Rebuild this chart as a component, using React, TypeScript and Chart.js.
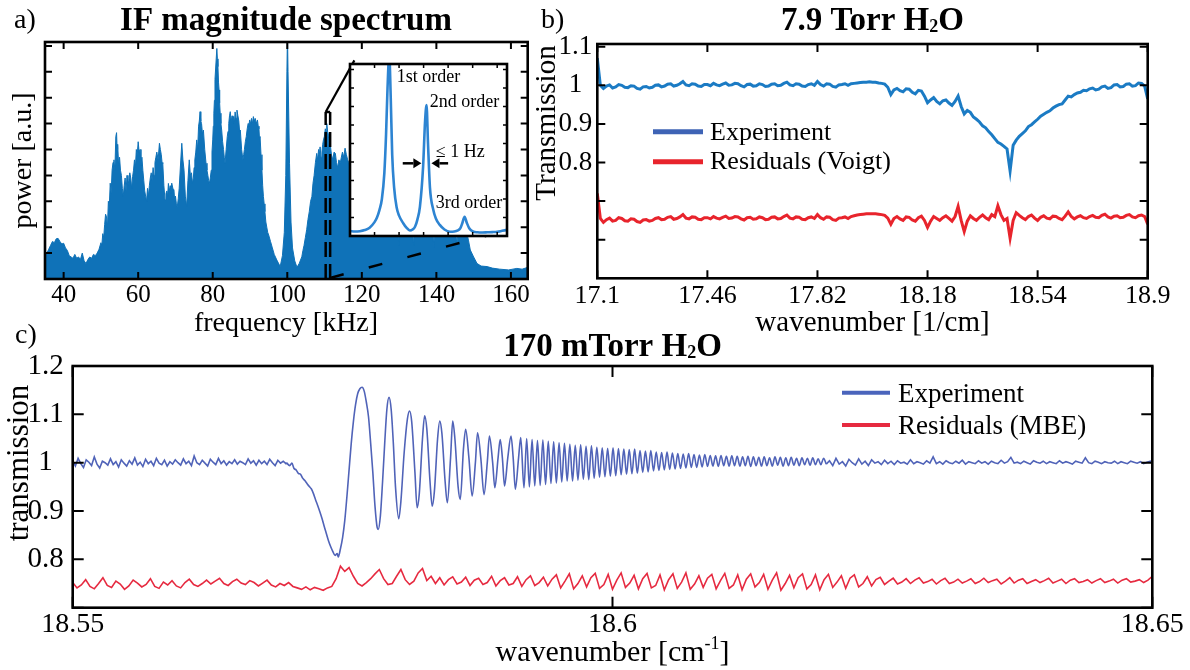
import React, { useEffect, useRef } from 'react';
import { Chart, registerables } from 'chart.js';

Chart.register(...registerables);

const SERIF = '"Liberation Serif", "Times New Roman", Times, serif';

// ---------------- Panel a : IF magnitude spectrum ----------------
const specPoints: [number, number][] = [
  [35.0,1.05],[35.5,1.0],[36.0,1.15],[36.5,1.3],[37.0,1.45],[37.5,1.4],[38.0,1.55],[38.5,1.57],[39.0,1.45],[39.5,1.35],
  [40.0,1.38],[40.5,1.2],[41.0,1.1],[41.5,0.9],[42.0,0.85],[42.5,0.8],[43.0,0.95],[43.5,0.8],[44.0,0.85],[44.5,0.75],
  [45.0,1.0],[45.5,0.7],[46.0,0.6],[46.5,0.75],[47.0,0.85],[47.5,0.8],[48.0,0.95],[48.5,0.9],[49.0,1.0],[49.5,1.15],
  [50.0,1.4],[50.25,1.3],[50.5,1.75],[50.75,1.6],[51.0,2.1],[51.25,2.5],[51.5,2.4],[51.75,2.0],[52.0,3.0],[52.25,2.8],
  [52.5,3.7],[52.75,3.3],[53.0,4.2],[53.25,4.5],[53.5,4.6],[53.75,4.2],[54.0,5.5],[54.2,5.65],[54.35,5.0],[54.5,5.2],
  [54.75,4.4],[55.0,4.7],[55.25,4.2],[55.5,4.0],[55.75,3.5],[56.0,3.2],[56.25,3.6],[56.5,3.9],[56.75,3.4],[57.0,4.0],
  [57.25,3.6],[57.5,3.8],[57.75,4.1],[58.0,3.9],[58.25,3.5],[58.5,3.95],[58.75,4.2],[59.0,4.6],[59.25,4.3],[59.5,5.0],
  [59.75,4.8],[60.0,5.3],[60.25,4.9],[60.5,5.0],[60.75,4.4],[61.0,4.7],[61.25,4.2],[61.5,3.8],[61.75,3.4],[62.0,3.2],
  [62.25,3.0],[62.5,3.5],[62.75,3.2],[63.0,3.6],[63.25,3.9],[63.5,4.1],[63.75,3.8],[64.0,4.3],[64.25,4.0],[64.5,4.5],
  [64.75,4.7],[65.0,4.9],[65.35,4.6],[65.7,5.24],[65.95,5.0],[66.2,4.8],[66.4,4.5],[66.6,4.45],[66.9,3.6],[67.2,3.05],
  [67.45,3.3],[67.7,3.4],[67.9,3.2],[68.1,3.69],[68.35,3.4],[68.6,3.6],[68.8,3.3],[69.0,3.7],[69.3,3.5],[69.6,3.44],
  [69.8,3.0],[70.0,3.2],[70.25,2.9],[70.5,2.8],[70.75,3.1],[71.0,3.5],[71.35,4.4],[71.7,5.24],[72.0,4.6],[72.3,4.2],
  [72.65,3.2],[73.0,2.8],[73.35,3.8],[73.7,4.6],[74.0,4.0],[74.3,4.1],[74.55,3.7],[74.8,3.9],[75.0,4.3],[75.2,4.6],
  [75.45,4.9],[75.7,5.37],[75.95,5.0],[76.2,5.9],[76.4,6.1],[76.6,6.46],[76.8,6.1],[77.0,6.0],[77.25,5.6],[77.5,5.75],
  [77.85,5.0],[78.2,4.47],[78.45,4.2],[78.7,4.0],[78.9,3.8],[79.1,3.69],[79.35,3.9],[79.6,4.2],[79.8,4.9],[80.0,5.37],
  [80.15,5.9],[80.3,6.4],[80.45,6.9],[80.6,7.7],[80.85,8.3],[81.1,8.9],[81.25,8.5],[81.4,8.2],[81.55,7.6],[81.7,7.3],
  [81.85,6.8],[82.0,6.4],[82.2,6.0],[82.4,5.75],[82.65,5.3],[82.9,5.0],[83.1,4.7],[83.3,4.47],[83.6,5.0],[83.9,5.5],
  [84.1,5.7],[84.3,6.0],[84.5,6.3],[84.7,6.46],[84.95,6.1],[85.2,6.3],[85.4,6.0],[85.6,6.27],[85.8,6.0],[86.0,6.45],
  [86.25,6.2],[86.5,6.52],[86.75,6.3],[87.0,6.1],[87.2,5.7],[87.4,5.75],[87.75,5.0],[88.1,4.6],[88.3,4.8],[88.5,5.0],
  [88.75,5.3],[89.0,5.5],[89.25,5.8],[89.5,6.0],[89.7,5.9],[89.9,6.14],[90.15,6.0],[90.4,6.2],[90.65,6.0],[90.9,6.27],
  [91.15,6.1],[91.4,6.2],[91.7,6.0],[92.0,6.14],[92.2,5.9],[92.4,5.8],[92.55,5.4],[92.7,5.5],[92.95,4.8],[93.2,4.2],
  [93.4,3.6],[93.6,3.18],[93.8,2.9],[94.0,2.6],[94.25,2.2],[94.5,2.0],[94.75,1.8],[95.0,1.7],[95.5,1.45],[96.0,1.2],
  [96.5,0.95],[97.2,0.73],[98.1,0.48],[98.7,0.9],[99.2,1.8],[99.6,4.0],[99.9,8.0],[100.05,9.5],[100.2,8.0],[100.6,4.47],
  [101.0,2.2],[101.4,1.2],[102.0,0.7],[102.6,0.45],[103.2,0.6],[103.9,0.86],[104.2,1.1],[104.5,1.3],[104.85,1.6],[105.2,1.9],
  [105.55,2.3],[105.9,2.6],[106.25,3.0],[106.6,3.18],[106.9,3.7],[107.2,4.0],[107.55,4.5],[107.9,4.85],[108.15,4.6],[108.4,5.0],
  [108.6,4.8],[108.8,5.1],[109.05,4.7],[109.3,4.9],[109.5,5.2],[109.7,5.37],[109.95,5.5],[110.2,5.8],[110.4,5.7],[110.6,6.0],
  [110.8,5.7],[111.0,5.6],[111.25,5.0],[111.5,5.24],[111.85,4.8],[112.2,4.6],[112.55,4.9],[112.9,4.85],[113.2,4.5],[113.5,4.3],
  [113.85,4.6],[114.2,4.47],[114.5,4.7],[114.8,4.9],[115.15,4.7],[115.5,5.05],[115.85,4.8],[116.2,4.6],[117.0,4.3],[118.0,4.0],
  [120.0,3.5],[122.0,3.8],[124.0,3.2],[126.0,3.0],[128.0,3.4],[129.5,2.5],[129.9,1.3],[130.3,2.6],[132.0,3.0],[133.5,2.4],
  [133.9,1.3],[134.3,2.5],[136.0,3.2],[138.0,2.8],[139.0,2.2],[139.3,1.2],[139.6,2.4],[141.0,3.0],[143.0,2.6],[145.0,2.2],
  [145.5,1.3],[145.9,2.3],[147.0,2.2],[148.0,1.9],[148.6,1.5],[149.1,1.12],[150.0,0.85],[150.9,0.6],[152.0,0.5],[153.6,0.48],
  [155.0,0.42],[157.0,0.38],[159.4,0.35],[161.6,0.41],[163.0,0.38],[164.5,0.45],
];
const aXTicks = [40, 60, 80, 100, 120, 140, 160];
const aYTicks = [1, 2, 3, 4, 5, 6, 7, 8, 9];
// zoom window (dashed) and connector lines, in kHz / a.u.
const zoomLeftEdge: [number, number][] = [[110.3, 0], [110.3, 6.45]];
const zoomRightEdge: [number, number][] = [[111.5, 0], [111.5, 6.45]];
const zoomTopEdge: [number, number][] = [[110.3, 6.45], [111.5, 6.45]];
const zoomLinkTop: [number, number][] = [[110.3, 6.45], [118.0, 8.44]];
const zoomLinkBottom: [number, number][] = [[111.5, 0.04], [159.3, 1.9]];

// ---------------- Inset : beat notes ----------------
const insetPoints: [number, number][] = [
  [0.0,0.27],[0.2,0.24],[0.4,0.26],[0.6,0.32],[0.8,0.45],[1.0,0.75],[1.1,1.0],[1.2,1.4],[1.3,2.0],[1.4,3.4],
  [1.47,5.5],[1.53,8.0],[1.6,9.8],[1.66,7.5],[1.72,4.4],[1.8,2.6],[1.9,1.55],[2.0,1.1],[2.17,0.69],[2.3,0.45],
  [2.44,0.3],[2.55,0.35],[2.65,0.5],[2.75,0.9],[2.85,1.58],[2.98,3.75],[3.06,6.2],[3.12,7.08],[3.18,5.0],[3.26,2.6],
  [3.39,1.45],[3.5,0.95],[3.66,0.6],[3.85,0.35],[4.07,0.23],[4.25,0.24],[4.4,0.3],[4.5,0.42],[4.58,0.7],[4.67,1.04],
  [4.76,0.72],[4.86,0.42],[5.01,0.25],[5.2,0.2],[5.4,0.19],[5.6,0.2],[5.8,0.21],[6.0,0.23],[6.2,0.28],[6.4,0.33],
];
const insetXTicks = [1, 2, 3, 4, 5, 6];
const insetYTicks = [1, 2, 3, 4, 5, 6, 7, 8, 9];
const insetLabels = [
  { t: '1st order', x: 1.91, y: 8.31 },
  { t: '2nd order', x: 3.25, y: 6.99 },
  { t: '≤ 1 Hz', x: 3.5, y: 4.25 },
  { t: '3rd order', x: 3.5, y: 1.5 },
];
const insetArrows: [number, number, number][] = [[2.15, 2.91, 3.93], [4.0, 3.32, 3.93]];

// ---------------- Panel b : 7.9 Torr ----------------
const B_START = 17.1;
const B_STEP = 0.01;
const bExperiment = [
  1.070,1.000,0.992,0.998,1.001,0.993,0.996,1.002,1.000,0.995, // 17.10
  0.994,0.999,0.998,0.992,0.990,0.996,0.997,0.993,0.995,1.000, // 17.20
  1.001,0.996,0.998,1.003,1.004,0.998,1.000,1.004,1.010,1.001, // 17.30
  0.999,1.004,1.003,0.998,0.997,1.002,1.002,0.999,1.005,1.001, // 17.40
  0.999,1.003,1.006,1.000,1.001,1.005,1.004,0.999,0.996,1.002, // 17.50
  1.003,0.998,0.999,1.004,1.002,0.997,0.998,1.003,1.004,0.999, // 17.60
  1.000,1.005,1.008,1.001,0.999,1.004,1.003,0.998,0.997,1.002, // 17.70
  1.004,1.000,1.010,1.002,0.998,1.004,1.003,0.997,0.995,1.001, // 17.80
  1.002,1.004,1.000,1.004,1.005,1.006,1.007,1.008,1.008,1.009, // 17.90
  1.008,1.008,1.006,1.005,1.003,0.995,0.976,0.988,0.992,0.986, // 18.00
  0.983,0.991,0.990,0.982,0.978,0.987,0.985,0.972,0.955,0.962, // 18.10
  0.968,0.958,0.952,0.960,0.962,0.954,0.948,0.958,0.972,0.945, // 18.20
  0.926,0.935,0.930,0.918,0.912,0.905,0.895,0.890,0.880,0.872, // 18.30
  0.862,0.852,0.848,0.842,0.835,0.778,0.845,0.858,0.868,0.875, // 18.40
  0.882,0.893,0.898,0.905,0.912,0.920,0.925,0.930,0.934,0.941, // 18.50
  0.946,0.950,0.952,0.962,0.972,0.970,0.976,0.980,0.982,0.987, // 18.60
  0.986,0.991,0.993,0.988,0.990,0.996,0.998,0.992,0.994,1.001, // 18.70
  1.002,0.996,0.997,1.003,1.004,0.998,0.999,1.006,1.005,0.998, // 18.80
  0.965,                                                       // 18.90
];
const bResiduals = [
  0.720,0.655,0.645,0.652,0.656,0.648,0.650,0.657,0.655,0.649, // 17.10
  0.648,0.654,0.653,0.647,0.645,0.651,0.652,0.648,0.650,0.655, // 17.20
  0.657,0.652,0.653,0.658,0.660,0.653,0.655,0.659,0.665,0.656, // 17.30
  0.654,0.659,0.658,0.653,0.652,0.657,0.657,0.654,0.660,0.656, // 17.40
  0.654,0.658,0.661,0.655,0.656,0.660,0.659,0.654,0.651,0.657, // 17.50
  0.658,0.653,0.654,0.659,0.657,0.652,0.653,0.658,0.659,0.654, // 17.60
  0.655,0.660,0.664,0.656,0.654,0.659,0.658,0.653,0.652,0.657, // 17.70
  0.659,0.655,0.665,0.657,0.653,0.659,0.658,0.652,0.650,0.656, // 17.80
  0.657,0.659,0.655,0.660,0.662,0.664,0.665,0.666,0.667,0.667, // 17.90
  0.667,0.667,0.666,0.665,0.663,0.656,0.640,0.655,0.660,0.654, // 18.00
  0.650,0.659,0.658,0.651,0.648,0.657,0.661,0.650,0.632,0.648, // 18.10
  0.660,0.655,0.650,0.657,0.662,0.655,0.648,0.660,0.686,0.650, // 18.20
  0.621,0.648,0.662,0.655,0.650,0.658,0.664,0.657,0.652,0.665, // 18.30
  0.660,0.688,0.665,0.650,0.655,0.604,0.650,0.670,0.663,0.657, // 18.40
  0.652,0.660,0.664,0.656,0.650,0.658,0.662,0.656,0.654,0.661, // 18.50
  0.660,0.655,0.652,0.661,0.672,0.660,0.654,0.659,0.662,0.657, // 18.60
  0.655,0.660,0.663,0.658,0.657,0.663,0.666,0.659,0.656,0.661, // 18.70
  0.662,0.657,0.658,0.663,0.665,0.659,0.657,0.662,0.664,0.660, // 18.80
  0.640,                                                       // 18.90
];
const bXTicks = [17.1, 17.46, 17.82, 18.18, 18.54, 18.9];
const bYTicks = [0.6, 0.7, 0.8, 0.9, 1, 1.1];
const bYLabelled = [0.8, 0.9, 1, 1.1];
const bLegendLabels = ['Experiment', 'Residuals (Voigt)'];

// ---------------- Panel c : 170 mTorr ----------------
const C_HEAD_START = 18.55;
const C_HEAD_STEP = 0.00025;
const cExpHead = [
  1.004,0.993,1.009,0.998,0.990,1.006,1.001,0.994,1.012,0.997,
  0.989,1.003,1.000,0.995,1.008,0.996,1.002,0.991,1.006,0.999,
  0.993,1.004,0.997,1.010,0.995,1.001,0.992,1.007,0.998,1.003,
  0.994,1.009,0.999,0.996,1.005,0.993,1.002,0.997,1.006,1.000,
  0.995,1.008,0.998,1.003,0.994,1.014,1.000,0.996,1.005,0.999,
  0.993,1.007,1.001,0.996,1.009,0.998,1.004,0.995,1.002,0.998,
  1.006,0.997,1.003,1.000,0.996,1.008,0.999,1.004,0.995,1.005,
  0.998,1.003,0.996,1.007,1.000,0.994,1.005,0.999,1.003,0.998,
];
const cExpCore: [number, number][] = [
  [18.5698,1.000],[18.5701,0.994],[18.5703,0.999],[18.5705,0.988],[18.5707,0.985],[18.5709,0.978],[18.5711,0.976],
  [18.5713,0.968],[18.5715,0.963],[18.5717,0.957],[18.5719,0.951],[18.5721,0.946],[18.5723,0.936],[18.5725,0.923],
  [18.5727,0.911],[18.5729,0.898],[18.5731,0.884],[18.5733,0.868],[18.5735,0.853],[18.5737,0.838],[18.5739,0.826],
  [18.5741,0.816],[18.5743,0.808],[18.5745,0.812],[18.5746,0.805],[18.5748,0.822],[18.5750,0.845],[18.5752,0.880],
  [18.5754,0.930],[18.5756,0.985],[18.5758,1.040],[18.5760,1.085],[18.5762,1.120],[18.5764,1.143],[18.5766,1.153],
  [18.5768,1.156],[18.5770,1.148],[18.5772,1.125],[18.5774,1.095],[18.5776,1.040],[18.5778,0.980],[18.5780,0.910],
  [18.5782,0.866],[18.5783,0.862],[18.5785,0.890],[18.5787,0.960],[18.5789,1.040],[18.5791,1.110],[18.5793,1.135],
  [18.5795,1.110],[18.5797,1.040],[18.5799,0.950],[18.5802,0.884],[18.5804,0.920],[18.5807,1.020],[18.5810,1.090],
  [18.5812,1.107],[18.5814,1.085],[18.5817,0.980],[18.5819,0.907],[18.5821,0.935],[18.5824,1.050],[18.5826,1.097],
  [18.5828,1.070],[18.5831,0.960],[18.5833,0.910],[18.5835,0.940],[18.5838,1.050],[18.5840,1.086],[18.5842,1.060],
  [18.5845,0.960],[18.5847,0.917],[18.5850,1.010],[18.5852,1.086],[18.5854,1.050],[18.5857,0.950],[18.5859,0.924],
  [18.5862,1.030],[18.5864,1.069],[18.5867,1.010],[18.5870,0.931],[18.5873,1.000],[18.5875,1.062],[18.5878,1.010],
  [18.5881,0.934],[18.5884,1.000],[18.5886,1.055],[18.5889,1.000],[18.5891,0.948],[18.5894,1.010],[18.5896,1.048],
  [18.5898,1.010],[18.5900,0.952],[18.5903,1.010],[18.5906,1.055],[18.5908,1.010],[18.5910,0.945],[18.5913,1.010],
  [18.5915,1.052],
];
const C_OSC_START = 18.5918;
const C_OSC_STEP = 0.00025;
const cExpOsc = [
  0.948,1.050,0.950,1.048,0.952,1.046,0.953,1.047,0.955,1.044,
  0.957,1.043,0.958,1.041,0.960,1.040,0.962,1.038,0.962,1.036,
  0.964,1.037,0.966,1.034,0.965,1.035,0.968,1.032,0.970,1.031,
  0.971,1.030,0.972,1.031,0.973,1.029,0.975,1.028,0.976,1.027,
  0.977,1.028,0.978,1.025,0.980,1.024,0.981,1.025,0.983,1.022,
  0.984,1.021,0.985,1.022,0.986,1.020,0.987,1.019,0.988,1.018,
  0.989,1.019,0.990,1.017,0.990,1.016,0.991,1.017,0.992,1.015,
  0.993,1.014,0.992,1.015,0.994,1.013,0.993,1.014,0.994,1.013,
  0.993,1.012,0.994,1.013,0.992,1.012,0.994,1.011,0.993,1.012,
  0.994,1.010,0.993,1.012,0.995,1.011,0.993,1.010,0.994,1.011,
  0.995,1.009,0.994,1.010,0.996,1.009,0.995,1.010,0.996,1.008,
  0.996,1.009,0.997,
];
const C_TAIL_START = 18.6201;
const C_TAIL_STEP = 0.0003;
const cExpTail = [
  1.004,0.994,1.009,0.997,1.002,0.993,1.007,1.000,0.995,1.008,
  0.997,1.003,0.994,1.006,0.999,1.002,0.996,1.005,0.998,1.003,
  0.996,1.004,0.999,1.001,0.997,1.006,0.998,1.002,1.000,0.997,
  1.004,0.999,1.012,0.998,1.002,0.997,1.004,1.000,0.998,1.003,
  0.999,1.005,0.997,1.002,1.000,0.998,1.004,0.999,1.002,0.997,
  1.003,1.000,0.998,1.005,0.999,1.002,1.011,0.999,1.001,0.998,
  1.003,1.000,0.997,1.004,1.001,0.999,1.003,0.998,1.002,1.000,
  0.998,1.004,0.999,1.002,1.000,0.997,1.003,1.001,0.999,1.010,
  1.000,0.998,1.003,1.001,0.998,1.002,1.000,0.999,1.003,0.998,
  1.002,1.000,0.998,1.003,1.001,0.999,1.002,0.998,1.001,1.003,
  1.004,
];
const C_RES_START = 18.55;
const C_RES_STEP = 0.0004;
const cResiduals = [
  0.752,0.741,0.747,0.758,0.744,0.739,0.750,0.762,0.746,0.742,
  0.755,0.749,0.738,0.745,0.757,0.751,0.743,0.748,0.760,0.744,
  0.740,0.753,0.747,0.756,0.745,0.741,0.752,0.759,0.748,0.744,
  0.750,0.757,0.749,0.755,0.761,0.750,0.746,0.754,0.759,0.751,
  0.748,0.756,0.752,0.745,0.751,0.757,0.747,0.743,0.750,0.746,
  0.752,0.744,0.741,0.738,0.743,0.737,0.742,0.739,0.736,0.741,
  0.744,0.760,0.786,0.775,0.783,0.765,0.750,0.745,0.752,0.760,
  0.770,0.779,0.760,0.748,0.750,0.765,0.779,0.758,0.748,0.755,
  0.772,0.781,0.756,0.765,0.750,0.762,0.747,0.758,0.764,0.749,
  0.753,0.763,0.746,0.757,0.761,0.748,0.752,0.765,0.745,0.756,
  0.762,0.747,0.750,0.764,0.744,0.758,0.766,0.746,0.752,0.763,
  0.745,0.759,0.768,0.741,0.755,0.770,0.739,0.750,0.766,0.743,
  0.762,0.771,0.740,0.748,0.769,0.738,0.757,0.772,0.742,0.751,
  0.767,0.739,0.760,0.771,0.741,0.746,0.768,0.737,0.758,0.770,
  0.740,0.753,0.772,0.738,0.749,0.766,0.742,0.761,0.769,0.739,
  0.756,0.771,0.740,0.747,0.768,0.737,0.759,0.770,0.743,0.752,
  0.769,0.738,0.757,0.772,0.736,0.750,0.767,0.741,0.762,0.770,
  0.739,0.748,0.768,0.737,0.758,0.769,0.742,0.753,0.766,0.740,
  0.761,0.768,0.743,0.750,0.764,0.745,0.758,0.763,0.748,0.755,
  0.761,0.749,0.753,0.760,0.750,0.757,0.762,0.751,0.754,0.759,
  0.749,0.756,0.761,0.750,0.753,0.759,0.751,0.755,0.760,0.750,
  0.754,0.761,0.752,0.756,0.759,0.749,0.755,0.762,0.751,0.757,
  0.760,0.750,0.754,0.758,0.752,0.756,0.761,0.751,0.755,0.759,
  0.750,0.757,0.760,0.752,0.754,0.758,0.751,0.756,0.760,0.752,
  0.755,0.759,0.751,0.757,0.760,0.753,0.755,0.758,0.752,0.757,
  0.765,
];
const cXTicks = [18.55, 18.6, 18.65];
const cYTicks = [0.7, 0.8, 0.9, 1, 1.1, 1.2];
const cYLabelled = [0.8, 0.9, 1, 1.1, 1.2];
const cLegendLabels = ['Experiment', 'Residuals (MBE)'];

// ---------------- colours ----------------
const SPEC_BLUE = '#0f72b8';
const INSET_BLUE = '#2d84d2';
const B_EXP = '#1b7bc4';
const B_RES = '#e8242c';
const B_LEG_BLUE = '#3e63b5';
const C_EXP = '#5063b8';
const C_RES = '#e62a40';
const C_LEG_BLUE = '#4a64bc';

// ---------------- helpers ----------------
type Part = { t: string; s?: number; dy?: number };
type Txt = { parts: Part[]; x: number; y: number; size: number; bold?: boolean; align?: 'left' | 'center'; rot?: boolean };
type Leg = { label: string; color: string; x0: number; x1: number; y: number; lw: number; tx: number; ty: number; size: number };
interface DecorCfg {
  ox: number; oy: number; tickLen: number; tickWidth: number; frameWidth: number;
  texts?: Txt[]; legend?: Leg[]; white?: boolean; extra?: (chart: any) => void;
}
const plain = (t: string): Part[] => [{ t }];

function drawRich(ctx: CanvasRenderingContext2D, t: Txt) {
  const fontFor = (p: Part) => `${t.bold ? 'bold ' : ''}${Math.round(t.size * (p.s ?? 1))}px ${SERIF}`;
  let total = 0;
  const widths = t.parts.map((p) => { ctx.font = fontFor(p); const w = ctx.measureText(p.t).width; total += w; return w; });
  let x = t.align === 'center' ? -total / 2 : 0;
  ctx.textAlign = 'left';
  ctx.textBaseline = 'alphabetic';
  t.parts.forEach((p, i) => { ctx.font = fontFor(p); ctx.fillText(p.t, x, p.dy ?? 0); x += widths[i]; });
}

function makeDecor(cfg: DecorCfg) {
  return {
    id: 'decor',
    beforeDatasetsDraw(chart: any) {
      if (!cfg.white) return;
      const { ctx, chartArea: a } = chart;
      ctx.save();
      ctx.fillStyle = '#ffffff';
      ctx.fillRect(a.left, a.top, a.right - a.left, a.bottom - a.top);
      ctx.restore();
    },
    afterDatasetsDraw(chart: any) {
      const { ctx, chartArea: a } = chart;
      const xs = chart.scales.x;
      const ys = chart.scales.y;
      ctx.save();
      ctx.strokeStyle = '#000';
      ctx.lineWidth = cfg.tickWidth;
      ctx.beginPath();
      xs.ticks.forEach((t: any) => {
        const p = xs.getPixelForValue(t.value);
        ctx.moveTo(p, a.bottom); ctx.lineTo(p, a.bottom - cfg.tickLen);
        ctx.moveTo(p, a.top); ctx.lineTo(p, a.top + cfg.tickLen);
      });
      ys.ticks.forEach((t: any) => {
        const p = ys.getPixelForValue(t.value);
        ctx.moveTo(a.left, p); ctx.lineTo(a.left + cfg.tickLen, p);
        ctx.moveTo(a.right, p); ctx.lineTo(a.right - cfg.tickLen, p);
      });
      ctx.stroke();
      ctx.lineWidth = cfg.frameWidth;
      ctx.strokeRect(a.left, a.top, a.right - a.left, a.bottom - a.top);
      if (cfg.extra) cfg.extra(chart);
      (cfg.legend || []).forEach((l) => {
        ctx.strokeStyle = l.color;
        ctx.lineWidth = l.lw;
        ctx.beginPath();
        ctx.moveTo(l.x0 - cfg.ox, l.y - cfg.oy);
        ctx.lineTo(l.x1 - cfg.ox, l.y - cfg.oy);
        ctx.stroke();
        ctx.fillStyle = '#000';
        ctx.font = `${l.size}px ${SERIF}`;
        ctx.textAlign = 'left';
        ctx.textBaseline = 'alphabetic';
        ctx.fillText(l.label, l.tx - cfg.ox, l.ty - cfg.oy);
      });
      (cfg.texts || []).forEach((t) => {
        ctx.save();
        ctx.fillStyle = '#000';
        ctx.translate(t.x - cfg.ox, t.y - cfg.oy);
        if (t.rot) ctx.rotate(-Math.PI / 2);
        drawRich(ctx, t);
        ctx.restore();
      });
      ctx.restore();
    },
  };
}

function axisCfg(o: {
  min: number; max: number; ticks: number[]; horizontal: boolean; fixed: number;
  size?: number; padding?: number; show?: boolean; labelled?: number[]; crossAlign?: string;
}) {
  return {
    type: 'linear',
    min: o.min,
    max: o.max,
    afterBuildTicks: (s: any) => { s.ticks = o.ticks.map((v) => ({ value: v })); },
    afterFit: (s: any) => {
      if (o.horizontal) s.height = o.fixed; else s.width = o.fixed;
      s.paddingLeft = 0; s.paddingRight = 0; s.paddingTop = 0; s.paddingBottom = 0;
    },
    grid: { display: false, drawTicks: false },
    border: { display: false },
    ticks: {
      display: o.show !== false,
      autoSkip: false,
      maxRotation: 0,
      minRotation: 0,
      color: '#000',
      font: { family: SERIF, size: o.size ?? 25 },
      padding: o.padding ?? 0,
      crossAlign: o.crossAlign ?? 'near',
      callback: (v: any) => (!o.labelled || o.labelled.includes(Number(v)) ? String(Number(v)) : ''),
    },
  };
}

function line(points: { x: number; y: number }[], color: string, width: number, extra: any = {}) {
  return { data: points, borderColor: color, backgroundColor: color, borderWidth: width, pointRadius: 0, pointHoverRadius: 0, fill: false, ...extra };
}
const pairs = (arr: [number, number][]) => arr.map(([x, y]) => ({ x, y }));
const grid = (start: number, step: number, ys: number[]) => ys.map((y, i) => ({ x: start + i * step, y }));

const baseOptions = (padding: any) => ({
  animation: false,
  responsive: false,
  devicePixelRatio: 1,
  events: [],
  layout: { padding },
  plugins: { legend: { display: false }, tooltip: { enabled: false }, title: { display: false } },
});

// ---------------- charts ----------------
function makeA(canvas: HTMLCanvasElement) {
  const dashed = (pts: [number, number][], dash: number[]) => line(pairs(pts), '#000', 2.5, { borderDash: dash, order: 0 });
  return new Chart(canvas, {
    type: 'line',
    data: {
      datasets: [
        dashed(zoomLeftEdge, [15, 7]),
        dashed(zoomRightEdge, [15, 7]),
        line(pairs(zoomTopEdge), '#000', 2.5, { order: 0 }),
        line(pairs(zoomLinkTop), '#000', 2.2, { order: 0 }),
        dashed(zoomLinkBottom, [14, 26]),
        line(pairs(specPoints), SPEC_BLUE, 1, { fill: 'origin', order: 1 }),
      ],
    } as any,
    options: {
      ...baseOptions({ top: 42, right: 12.3, left: 0, bottom: 0 }),
      scales: {
        x: axisCfg({ min: 35, max: 164.5, ticks: aXTicks, horizontal: true, fixed: 61, size: 25, padding: 1 }),
        y: axisCfg({ min: 0, max: 9.15, ticks: aYTicks, horizontal: false, fixed: 45, show: false }),
      },
    } as any,
    plugins: [makeDecor({
      ox: 0, oy: 0, tickLen: 7, tickWidth: 2, frameWidth: 2.6,
      texts: [
        { parts: plain('a)'), x: 14, y: 28, size: 28 },
        { parts: plain('IF magnitude spectrum'), x: 286, y: 30, size: 33, bold: true, align: 'center' },
        { parts: plain('frequency [kHz]'), x: 286, y: 331, size: 28, align: 'center' },
        { parts: plain('power [a.u.]'), x: 31, y: 160.5, size: 28, align: 'center', rot: true },
      ],
    })] as any,
  });
}

function makeInset(canvas: HTMLCanvasElement) {
  return new Chart(canvas, {
    type: 'line',
    data: { datasets: [line(pairs(insetPoints), INSET_BLUE, 2.6, { cubicInterpolationMode: 'monotone' })] } as any,
    options: {
      ...baseOptions({ top: 2, right: 2, left: 2, bottom: 2 }),
      scales: {
        x: axisCfg({ min: 0, max: 6.4, ticks: insetXTicks, horizontal: true, fixed: 0, show: false }),
        y: axisCfg({ min: 0, max: 9.3, ticks: insetYTicks, horizontal: false, fixed: 0, show: false }),
      },
    } as any,
    plugins: [makeDecor({
      ox: 0, oy: 0, tickLen: 4, tickWidth: 1.5, frameWidth: 2.6, white: true,
      extra: (chart: any) => {
        const { ctx } = chart;
        const xs = chart.scales.x;
        const ys = chart.scales.y;
        ctx.save();
        ctx.fillStyle = '#000';
        ctx.strokeStyle = '#000';
        ctx.lineWidth = 2.5;
        insetArrows.forEach(([from, to, level]) => {
          const x0 = xs.getPixelForValue(from);
          const x1 = xs.getPixelForValue(to);
          const y = ys.getPixelForValue(level);
          const dir = Math.sign(x1 - x0);
          const head = 8;
          ctx.beginPath(); ctx.moveTo(x0, y); ctx.lineTo(x1 - dir * head, y); ctx.stroke();
          ctx.beginPath(); ctx.moveTo(x1, y); ctx.lineTo(x1 - dir * head, y - 5); ctx.lineTo(x1 - dir * head, y + 5); ctx.closePath(); ctx.fill();
        });
        ctx.font = `18px ${SERIF}`;
        ctx.textAlign = 'left';
        ctx.textBaseline = 'alphabetic';
        insetLabels.forEach((l) => ctx.fillText(l.t, xs.getPixelForValue(l.x), ys.getPixelForValue(l.y)));
        ctx.restore();
      },
    })] as any,
  });
}

function makeB(canvas: HTMLCanvasElement) {
  return new Chart(canvas, {
    type: 'line',
    data: {
      datasets: [
        line(grid(B_START, B_STEP, bExperiment), B_EXP, 3),
        line(grid(B_START, B_STEP, bResiduals), B_RES, 3),
      ],
    } as any,
    options: {
      ...baseOptions({ top: 44, right: 42.3, left: 0, bottom: 0 }),
      scales: {
        x: axisCfg({ min: 17.1, max: 18.9, ticks: bXTicks, horizontal: true, fixed: 61.7, size: 26, padding: 2 }),
        y: axisCfg({ min: 0.5, max: 1.107, ticks: bYTicks, horizontal: false, fixed: 67.3, size: 27, padding: 5, labelled: bYLabelled, crossAlign: 'center' }),
      },
    } as any,
    plugins: [makeDecor({
      ox: 530, oy: 0, tickLen: 8, tickWidth: 2, frameWidth: 2.6,
      legend: [
        { label: bLegendLabels[0], color: B_LEG_BLUE, x0: 653, x1: 703, y: 131.7, lw: 5, tx: 710, ty: 139.5, size: 26 },
        { label: bLegendLabels[1], color: B_RES, x0: 653, x1: 703, y: 161.7, lw: 5, tx: 710, ty: 168.5, size: 26 },
      ],
      texts: [
        { parts: plain('b)'), x: 541, y: 28, size: 28 },
        { parts: [{ t: '7.9 Torr H' }, { t: '2', s: 0.55, dy: 2 }, { t: 'O' }], x: 872.5, y: 30, size: 33, bold: true, align: 'center' },
        { parts: plain('wavenumber [1/cm]'), x: 872.5, y: 331, size: 29, align: 'center' },
        { parts: plain('Transmission'), x: 555, y: 123, size: 29, align: 'center', rot: true },
      ],
    })] as any,
  });
}

function makeC(canvas: HTMLCanvasElement) {
  const headPts = [...grid(C_HEAD_START, C_HEAD_STEP, cExpHead), ...pairs(cExpCore.slice(0, 1))];
  const oscPts = grid(C_OSC_START, C_OSC_STEP, cExpOsc);
  const corePts = [...pairs(cExpCore), ...oscPts];
  const tailPts = [oscPts[oscPts.length - 1], ...grid(C_TAIL_START, C_TAIL_STEP, cExpTail)];
  return new Chart(canvas, {
    type: 'line',
    data: {
      datasets: [
        line(headPts, C_EXP, 1.6),
        line(corePts, C_EXP, 1.6, { cubicInterpolationMode: 'monotone' }),
        line(tailPts, C_EXP, 1.6),
        line(grid(C_RES_START, C_RES_STEP, cResiduals), C_RES, 1.6),
      ],
    } as any,
    options: {
      ...baseOptions({ top: 46, right: 37.7, left: 0, bottom: 0 }),
      scales: {
        x: axisCfg({ min: 18.55, max: 18.65, ticks: cXTicks, horizontal: true, fixed: 62.3, size: 28, padding: 0 }),
        y: axisCfg({ min: 0.7, max: 1.2, ticks: cYTicks, horizontal: false, fixed: 72.7, size: 29, padding: 9, labelled: cYLabelled, crossAlign: 'center' }),
      },
    } as any,
    plugins: [makeDecor({
      ox: 0, oy: 320, tickLen: 11, tickWidth: 2, frameWidth: 2.6,
      legend: [
        { label: cLegendLabels[0], color: C_LEG_BLUE, x0: 842, x1: 890, y: 392.7, lw: 4, tx: 898, ty: 401.7, size: 27 },
        { label: cLegendLabels[1], color: C_RES, x0: 842, x1: 890, y: 425, lw: 4, tx: 898, ty: 433.5, size: 27 },
      ],
      texts: [
        { parts: plain('c)'), x: 15, y: 343, size: 28 },
        { parts: [{ t: '170 mTorr H' }, { t: '2', s: 0.55, dy: 2 }, { t: 'O' }], x: 612.5, y: 356, size: 33, bold: true, align: 'center' },
        { parts: [{ t: 'wavenumber [cm' }, { t: '-1', s: 0.6, dy: -12 }, { t: ']' }], x: 612.5, y: 661, size: 30, align: 'center' },
        { parts: plain('transmission'), x: 28, y: 463, size: 31, align: 'center', rot: true },
      ],
    })] as any,
  });
}

function PanelCanvas(props: { left: number; top: number; width: number; height: number; make: (c: HTMLCanvasElement) => Chart }) {
  const ref = useRef<HTMLCanvasElement>(null);
  useEffect(() => {
    const chart = props.make(ref.current as HTMLCanvasElement);
    return () => chart.destroy();
  }, []);
  return (
    <canvas
      ref={ref}
      width={props.width}
      height={props.height}
      style={{ position: 'absolute', left: props.left, top: props.top, width: props.width, height: props.height }}
    />
  );
}

export default function App() {
  return (
    <div style={{ position: 'absolute', left: 0, top: 0, width: 1190, height: 670, background: '#ffffff', overflow: 'hidden' }}>
      <PanelCanvas left={0} top={0} width={540} height={340} make={makeA} />
      <PanelCanvas left={530} top={0} width={660} height={340} make={makeB} />
      <PanelCanvas left={0} top={320} width={1190} height={350} make={makeC} />
      <PanelCanvas left={348} top={62} width={161} height={176} make={makeInset} />
    </div>
  );
}
